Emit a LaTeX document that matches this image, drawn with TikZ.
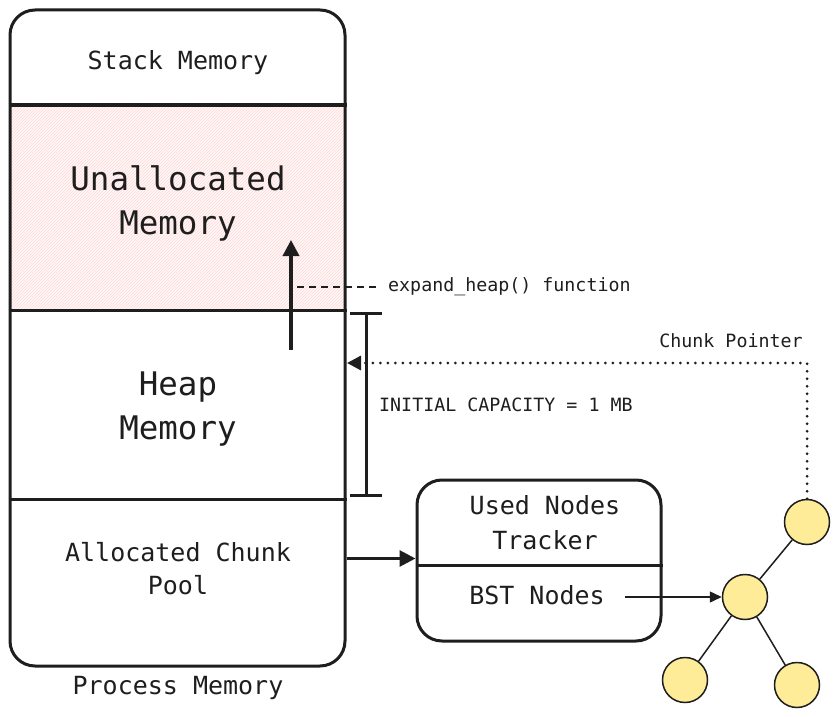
\documentclass[tikz,border=0pt]{standalone}
\usepackage{fontspec}
\setmonofont{DejaVu Sans Mono}
\usetikzlibrary{patterns,arrows.meta,calc}
\definecolor{ink}{HTML}{1E1E1E}
\definecolor{hatchbg}{HTML}{FFF8F8}
\definecolor{hatch}{HTML}{FFD8D8}
\definecolor{nodefill}{HTML}{FFEC99}
\tikzset{
  midtext/.style={font=\ttfamily\fontsize{25}{33}\selectfont, text=ink, align=center, inner sep=0pt},
  bigtext/.style={font=\ttfamily\fontsize{32.5}{44}\selectfont, text=ink, align=center, inner sep=0pt},
  smalltext/.style={font=\ttfamily\fontsize{18.3}{22}\selectfont, text=ink, inner sep=0pt},
  thickline/.style={draw=ink, line width=3pt},
  bstnode/.style={circle, draw=ink, fill=nodefill, line width=1.5pt, minimum size=45pt, inner sep=0pt},
  bigtip/.style={-{Triangle[length=16pt,width=16pt]}},
  smalltip/.style={-{Triangle[length=12pt,width=11pt]}},
}
\begin{document}
\begin{tikzpicture}[x=1pt,y=-1pt]
\useasboundingbox[fill=white] (0,0) rectangle (839,717);
% hatched unallocated region
\fill[hatchbg] (10,105) rectangle (345,310);
\fill[pattern=north east lines, pattern color=hatch] (10,105) rectangle (345,310);
% outer memory box
\node[thickline, rounded corners=25pt, minimum width=335pt, minimum height=656pt, inner sep=0pt] (mem) at (177.5,338) {};
\draw[ink, line width=3.5pt] (mem.west |- 0,105) -- (mem.east |- 0,105);
\draw[ink, line width=3pt] (mem.west |- 0,310) -- (mem.east |- 0,310);
\draw[ink, line width=3pt] (mem.west |- 0,499) -- (mem.east |- 0,499);
% texts
\node[midtext] (stack) at (178,63) {Stack Memory};
\node[bigtext] (unalloc) at (178,203) {Unallocated\\Memory};
\node[bigtext] (heap) at (178,409.5) {Heap\\Memory};
\node[midtext] (pool) at (178,568.5) {Allocated Chunk\\Pool};
\node[midtext] (proc) at (178,688) {Process Memory};
% expand arrow
\coordinate (upstart) at (291,350);
\coordinate (upend) at (291,240);
\draw[thickline, line width=3.5pt, bigtip] (upstart) -- (upend);
\node[smalltext, anchor=west] (expand) at (388,287) {expand\_heap() function};
\coordinate (dashstart) at (297,287);
\draw[ink, line width=1.5pt, dash pattern=on 7pt off 5pt] (dashstart) -- ([xshift=-8pt]expand.west);
% bracket
\draw[thickline] (350,313) -- (382,313);
\draw[thickline] (366,313) -- (366,495);
\draw[thickline] (350,495) -- (382,495);
\node[smalltext, anchor=west] (cap) at (379,405) {INITIAL CAPACITY = 1 MB};
% tracker
\node[thickline, rounded corners=25pt, minimum width=244pt, minimum height=161pt, inner sep=0pt] (tracker) at (539,560.5) {};
\draw[ink, line width=3pt] (tracker.west |- 0,565) -- (tracker.east |- 0,565);
\node[midtext, font=\ttfamily\fontsize{25}{35}\selectfont] (used) at (545,522.5) {Used Nodes\\Tracker};
\node[midtext] (bst) at (537,595) {BST Nodes};
\draw[thickline, bigtip] (pool.east -| mem.east) ++(0,-10) coordinate (poolout) -- (poolout -| tracker.west);
% BST
\node[bstnode] (c1) at (807,522) {};
\node[bstnode] (c2) at (745,597) {};
\node[bstnode] (c3) at (685,680) {};
\node[bstnode] (c4) at (797,685) {};
\draw[ink, line width=1.5pt] (c2) -- (c1);
\draw[ink, line width=1.5pt] (c2) -- (c3);
\draw[ink, line width=1.5pt] (c2) -- (c4);
\coordinate (bstout) at (625,597);
\draw[ink, line width=1.5pt, smalltip] (bstout) -- (c2.west);
% chunk pointer
\coordinate (heapin) at (347,363);
\draw[ink, line width=3pt, line cap=round, dash pattern=on 0pt off 7.5pt, -{Triangle[length=14pt,width=14pt,line cap=butt]}] (c1.north) -- (c1.north |- heapin) -- (heapin);
\node[smalltext] (chunk) at (731,341) {Chunk Pointer};
\end{tikzpicture}
\end{document}
